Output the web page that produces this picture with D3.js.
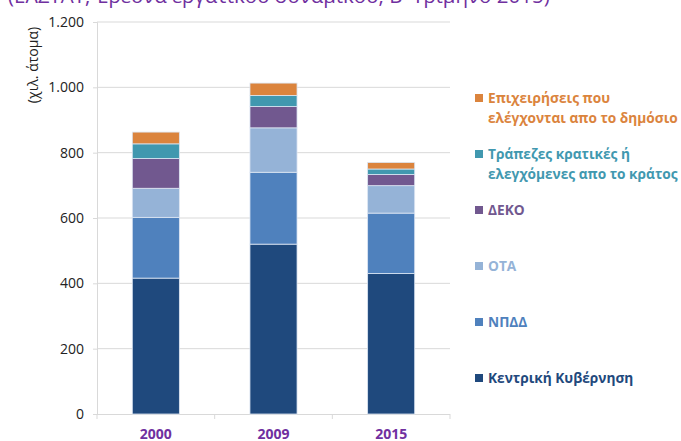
<!DOCTYPE html>
<html>
<head>
<meta charset="utf-8">
<script src="https://cdn.jsdelivr.net/npm/d3@7"></script>
<style>
  body { margin: 0; background: #fff; }
  svg { display: block; font-family: "Open Sans", "Noto Sans", sans-serif; }
</style>
</head>
<body>
<svg id="chart" width="681" height="441"></svg>
<script>
// years on the x axis
var years = ['2000', '2009', '2015'];

// series, bottom to top (thousands of people)
var series = ['Κεντρική Κυβέρνηση', 'ΝΠΔΔ', 'ΟΤΑ', 'ΔΕΚΟ',
              'Τράπεζες κρατικές ή ελεγχόμενες απο το κράτος',
              'Επιχειρήσεις που ελέγχονται απο το δημόσιο'];
var kentriki = [416, 520, 430];
var npdd = [186, 220, 185];
var ota = [89, 136, 84];
var deko = [91, 65, 34];
var trapezes = [45, 34, 17];
var epixeiriseis = [36, 38, 20];

var yTicks = [0, 200, 400, 600, 800, 1000, 1200];

var colors = ['#1f497d', '#4f81bd', '#95b3d7', '#71588f', '#4198af', '#db843d'];

// legend rows, top to bottom, each split in lines
var legendLines = [
    ['Επιχειρήσεις που', 'ελέγχονται απο το δημόσιο'],
    ['Τράπεζες κρατικές ή', 'ελεγχόμενες απο το κράτος'],
    ['ΔΕΚΟ'],
    ['ΟΤΑ'],
    ['ΝΠΔΔ'],
    ['Κεντρική Κυβέρνηση']
];

var values = [kentriki, npdd, ota, deko, trapezes, epixeiriseis];
var table = years.map(function(y, i){
    var row = {year: y};
    series.forEach(function(s, j){ row[s] = values[j][i]; });
    return row;
});

var svg = d3.select('#chart');
var plotLeft = 97, plotRight = 450, plotTop = 22, plotBottom = 414;

var x = d3.scaleBand().domain(years).range([plotLeft, plotRight]).paddingInner(0.6).paddingOuter(0.3);
var y = d3.scaleLinear().domain([0, 1200]).range([plotBottom, plotTop]);

// cut-off heading at the top
svg.append('text')
   .attr('x', 8)
   .attr('y', 3)
   .attr('fill', '#7030a0')
   .style('font-size', '20.5px')
   .text("(ΕΛΣΤΑΤ, Έρευνα εργατικού δυναμικού, Β' Τρίμηνο 2015)");

// gridlines
svg.append('g')
   .selectAll('line')
   .data(yTicks.slice(1))
   .enter()
   .append('line')
   .attr('x1', plotLeft)
   .attr('x2', plotRight)
   .attr('y1', function(d){ return y(d); })
   .attr('y2', function(d){ return y(d); })
   .attr('stroke', '#d9d9d9')
   .attr('stroke-width', 1);

// y axis
var yAxis = svg.append('g')
   .attr('transform', 'translate(' + plotLeft + ',0)')
   .call(d3.axisLeft(y).tickValues(yTicks).tickSize(4).tickPadding(9)
        .tickFormat(function(d){ return d3.format(',')(d).replace(',', '.'); }));
yAxis.select('.domain').attr('stroke', '#d9d9d9');
yAxis.selectAll('.tick line').attr('stroke', '#d9d9d9');
yAxis.selectAll('text').attr('fill', '#222').style('font-size', '14px')
     .style('font-family', '"Open Sans", sans-serif');

svg.append('text')
   .attr('transform', 'translate(38,65) rotate(-90)')
   .attr('text-anchor', 'middle')
   .attr('fill', '#222')
   .style('font-size', '14px')
   .text('(χιλ. άτομα)');

// x axis
var boundaries = [plotLeft].concat(years.map(function(d){ return x(d) + x.bandwidth() / 2 + x.step() / 2; }));
svg.append('line')
   .attr('x1', plotLeft - 4).attr('x2', plotRight)
   .attr('y1', plotBottom + 0.5).attr('y2', plotBottom + 0.5)
   .attr('stroke', '#d9d9d9');
svg.append('g')
   .selectAll('line')
   .data(boundaries)
   .enter()
   .append('line')
   .attr('x1', function(d){ return d; })
   .attr('x2', function(d){ return d; })
   .attr('y1', plotBottom)
   .attr('y2', plotBottom + 5)
   .attr('stroke', '#d9d9d9');

svg.append('g')
   .selectAll('text')
   .data(years)
   .enter()
   .append('text')
   .attr('x', function(d){ return x(d) + x.bandwidth() / 2; })
   .attr('y', 439)
   .attr('text-anchor', 'middle')
   .attr('fill', '#7030a0')
   .style('font-size', '14px')
   .style('font-weight', 'bold')
   .text(function(d){ return d; });

// stacked bars
var stack = d3.stack().keys(series)(table);
svg.append('g')
   .selectAll('g')
   .data(stack)
   .enter()
   .append('g')
   .attr('fill', function(d, i){ return colors[i]; })
   .selectAll('rect')
   .data(function(d){ return d; })
   .enter()
   .append('rect')
   .attr('x', function(d){ return x(d.data.year); })
   .attr('width', x.bandwidth())
   .attr('y', function(d){ return y(d[1]); })
   .attr('height', function(d){ return y(d[0]) - y(d[1]); })
   .attr('stroke', '#dde6f3')
   .attr('stroke-width', 0.8);

// legend
var legendY = [98, 154, 210, 266, 322, 378];
var legend = svg.append('g')
   .selectAll('g')
   .data(legendLines)
   .enter()
   .append('g')
   .attr('transform', function(d, i){ return 'translate(475,' + legendY[i] + ')'; });

legend.append('rect')
      .attr('x', 0)
      .attr('y', -4)
      .attr('width', 8)
      .attr('height', 8)
      .attr('fill', function(d, i){ return colors[5 - i]; });

legend.append('text')
      .attr('fill', function(d, i){ return colors[5 - i]; })
      .style('font-size', '13.7px')
      .style('font-weight', 'bold')
      .selectAll('tspan')
      .data(function(d){ return d; })
      .enter()
      .append('tspan')
      .attr('x', 13)
      .attr('y', function(d, j){ return 5 + j * 20; })
      .text(function(d){ return d; });
</script>
</body>
</html>
